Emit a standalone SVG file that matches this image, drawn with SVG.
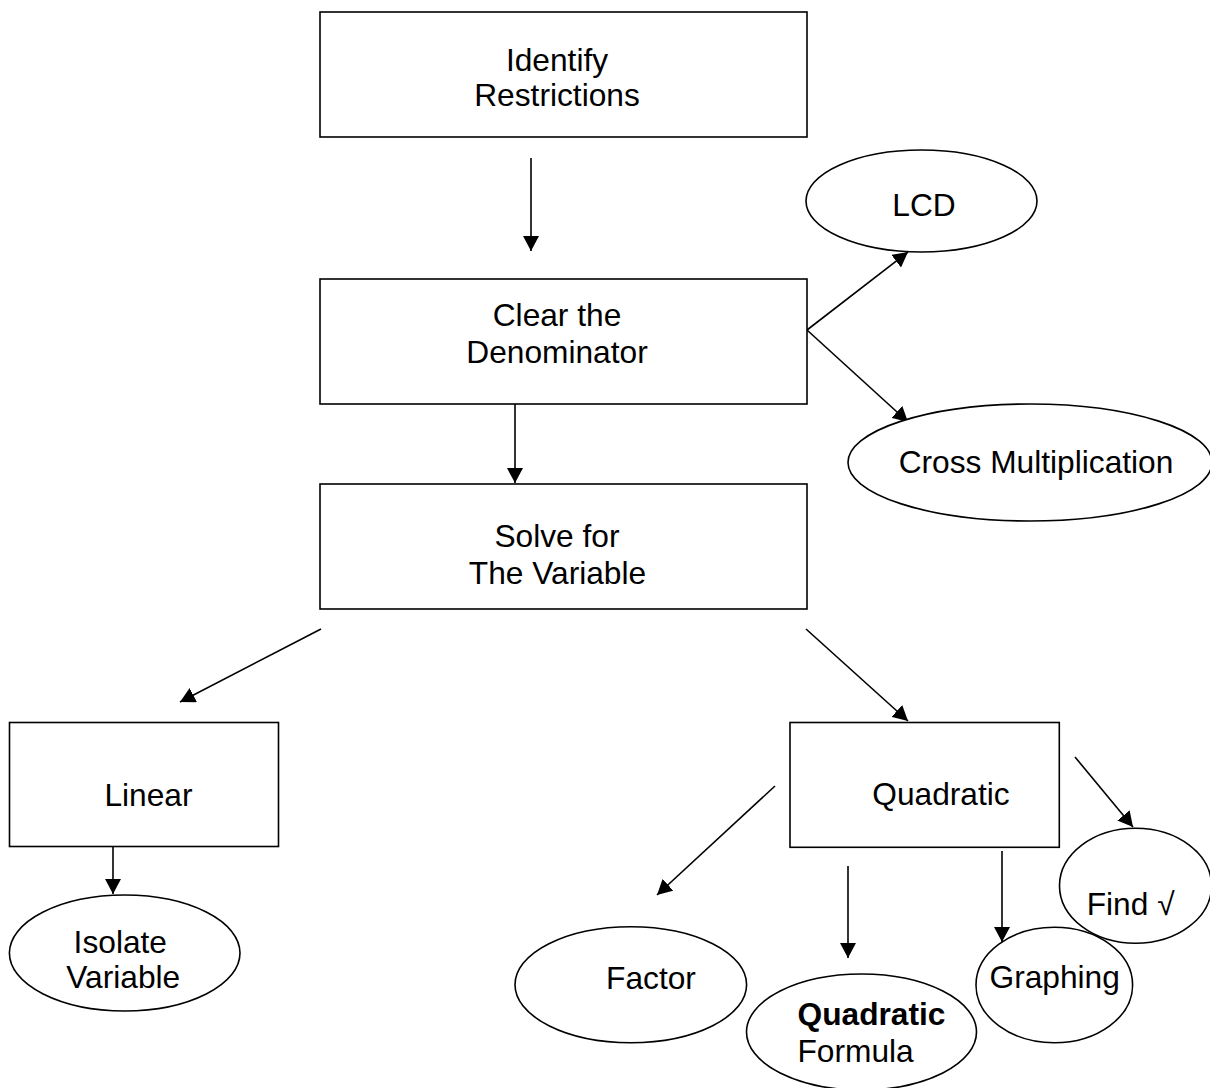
<svg xmlns="http://www.w3.org/2000/svg" width="1210" height="1088" viewBox="0 0 1210 1088">
  <style>
    .box { fill: #ffffff; stroke: #000000; stroke-width: 1.6; }
    .oval { fill: #ffffff; stroke: #000000; stroke-width: 1.6; }
    .lbl { font-family: "Liberation Sans", Arial, sans-serif; font-size: 31.7px; fill: #000000; }
    .mid { text-anchor: middle; }
    .bold { font-weight: bold; }
    .edge { stroke: #000000; stroke-width: 1.6; fill: none; marker-end: url(#head); }
  </style>
  <defs>
    <marker id="head" markerUnits="userSpaceOnUse" markerWidth="16" markerHeight="16" refX="15" refY="8" orient="auto">
      <path d="M0,0 L15,8 L0,16 Z" fill="#000000"/>
    </marker>
  </defs>

  <rect width="1210" height="1088" fill="#ffffff"/>

  <!-- connectors -->
  <g id="connectors">
    <line class="edge" x1="531" y1="158" x2="531" y2="251"/>
    <line class="edge" x1="807" y1="330" x2="908" y2="252"/>
    <line class="edge" x1="807" y1="330" x2="908" y2="422"/>
    <line class="edge" x1="515" y1="391" x2="515" y2="483"/>
    <line class="edge" x1="321" y1="629" x2="180" y2="702"/>
    <line class="edge" x1="806" y1="629" x2="908" y2="721"/>
    <line class="edge" x1="113" y1="847" x2="113" y2="894"/>
    <line class="edge" x1="775" y1="786" x2="657" y2="895"/>
    <line class="edge" x1="848" y1="866" x2="848" y2="958"/>
    <line class="edge" x1="1002" y1="851" x2="1002" y2="942"/>
    <line class="edge" x1="1075" y1="757" x2="1133" y2="827"/>
  </g>

  <!-- nodes -->
  <g id="identify-restrictions">
    <rect class="box" x="320" y="12" width="487" height="125"/>
    <text class="lbl mid" x="557" y="71">Identify</text>
    <text class="lbl mid" x="557" y="106">Restrictions</text>
  </g>

  <g id="lcd">
    <ellipse class="oval" cx="921.5" cy="201" rx="115.5" ry="51"/>
    <text class="lbl mid" x="924" y="216">LCD</text>
  </g>

  <g id="clear-denominator">
    <rect class="box" x="320" y="279" width="487" height="125"/>
    <text class="lbl mid" x="557" y="326">Clear the</text>
    <text class="lbl mid" x="557" y="363">Denominator</text>
  </g>

  <g id="cross-multiplication">
    <ellipse class="oval" cx="1030" cy="462.5" rx="182" ry="58.5"/>
    <text class="lbl mid" x="1036" y="473">Cross Multiplication</text>
  </g>

  <g id="solve-variable">
    <rect class="box" x="320" y="484" width="487" height="125"/>
    <text class="lbl mid" x="557" y="547">Solve for</text>
    <text class="lbl mid" x="557.5" y="584">The Variable</text>
  </g>

  <g id="linear">
    <rect class="box" x="9.5" y="722.5" width="269" height="124"/>
    <text class="lbl mid" x="148.5" y="806">Linear</text>
  </g>

  <g id="isolate-variable">
    <ellipse class="oval" cx="124.7" cy="953" rx="115.3" ry="58"/>
    <text class="lbl mid" x="120.3" y="953">Isolate</text>
    <text class="lbl mid" x="123.3" y="988">Variable</text>
  </g>

  <g id="quadratic">
    <rect class="box" x="790" y="722.5" width="269.3" height="124.8"/>
    <text class="lbl mid" x="941" y="805">Quadratic</text>
  </g>

  <g id="factor">
    <ellipse class="oval" cx="630.8" cy="984.7" rx="115.8" ry="58"/>
    <text class="lbl mid" x="651" y="989">Factor</text>
  </g>

  <g id="quadratic-formula">
    <ellipse class="oval" cx="861.5" cy="1032" rx="115" ry="58"/>
    <text class="lbl bold" x="797.5" y="1025">Quadratic</text>
    <text class="lbl" x="797.5" y="1062">Formula</text>
  </g>

  <g id="graphing">
    <ellipse class="oval" cx="1054.3" cy="985" rx="78.3" ry="57.7"/>
    <text class="lbl mid" x="1054.7" y="988">Graphing</text>
  </g>

  <g id="find-root">
    <ellipse class="oval" cx="1135.5" cy="885.8" rx="76" ry="57.5"/>
    <text class="lbl" x="1086.7" y="915">Find √</text>
  </g>
</svg>
